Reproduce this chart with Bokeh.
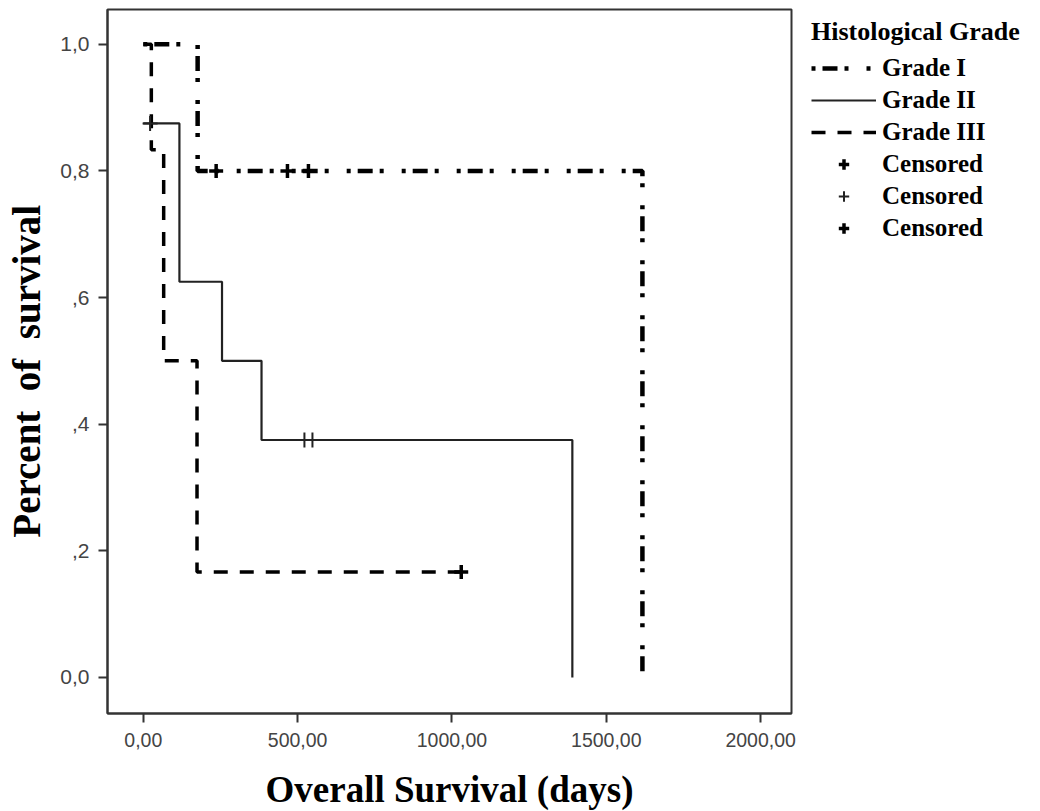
from bokeh.plotting import figure
from bokeh.models import Range1d, FixedTicker, Legend, LegendItem
from bokeh.embed import file_html
from bokeh.resources import INLINE

# ---- data ----
grade1_t = [0, 176, 1617]
grade1_s = [1.0, 0.8, 0.0]
grade1_cens_t = [236, 467, 535]
grade1_cens_s = [0.8, 0.8, 0.8]

grade2_t = [0, 117, 255, 383, 1390]
grade2_s = [0.875, 0.625, 0.5, 0.375, 0.0]
grade2_cens_t = [22, 522, 548]
grade2_cens_s = [0.875, 0.375, 0.375]

grade3_t = [0, 26, 66, 174, 1030]
grade3_s = [1.0, 0.8333, 0.5, 0.1667, 0.1667]
grade3_cens_t = [1030]
grade3_cens_s = [0.1667]

x_ticks = [0, 500, 1000, 1500, 2000]
x_tick_labels = ["0,00", "500,00", "1000,00", "1500,00", "2000,00"]
y_ticks = [0.0, 0.2, 0.4, 0.6, 0.8, 1.0]
y_tick_labels = ["0,0", ",2", ",4", ",6", "0,8", "1,0"]

FRAME = "#333333"

p = figure(frame_width=684, frame_height=704,
           x_range=Range1d(-116, 2100), y_range=Range1d(-0.057, 1.055),
           output_backend="svg", toolbar_location=None,
           min_border_left=107, min_border_top=9, min_border_bottom=89,
           min_border_right=233)
p.grid.visible = False
p.outline_line_color = FRAME
p.outline_line_width = 2
p.background_fill_color = "white"
p.border_fill_color = "white"

for ax in (p.xaxis[0], p.yaxis[0]):
    ax.axis_line_color = FRAME
    ax.axis_line_width = 2
    ax.major_tick_line_color = FRAME
    ax.major_tick_line_width = 2
    ax.major_tick_in = 0
    ax.major_tick_out = 9
    ax.minor_tick_line_color = None
    ax.major_label_text_font = "Liberation Sans"
    ax.major_label_text_color = "#444444"
    ax.axis_label_text_font = "Liberation Serif"
    ax.axis_label_text_font_style = "bold"
    ax.axis_label_text_color = "black"

p.xaxis.ticker = FixedTicker(ticks=x_ticks)
p.xaxis.major_label_overrides = {t: l for t, l in zip(x_ticks, x_tick_labels)}
p.xaxis.major_label_text_font_size = "19.5px"
p.xaxis.major_label_standoff = 10
p.xaxis.axis_label = "Overall Survival (days)"
p.xaxis.axis_label_text_font_size = "37px"
p.xaxis.axis_label_standoff = 19

p.yaxis.ticker = FixedTicker(ticks=y_ticks)
p.yaxis.major_label_overrides = {t: l for t, l in zip(y_ticks, y_tick_labels)}
p.yaxis.major_label_text_font_size = "21px"
p.yaxis.major_label_standoff = 9
p.yaxis.axis_label = "Percent\u00a0 of\u00a0 survival\u00a0\u00a0"
p.yaxis.axis_label_text_font_size = "39px"
p.yaxis.axis_label_standoff = 9

# ---- curves ----
r1 = p.step(grade1_t, grade1_s, mode="after", line_color="black",
            line_width=4.5, line_dash="4 7 15 7 4 18")
r2 = p.step(grade2_t, grade2_s, mode="after", line_color="#222222",
            line_width=2.2)
r3 = p.step(grade3_t, grade3_s, mode="after", line_color="black",
            line_width=3.5, line_dash="14 12")

c1 = p.scatter(grade1_cens_t, grade1_cens_s, marker="cross", size=14,
               line_color="black", line_width=3.5)
c2 = p.scatter(grade2_cens_t, grade2_cens_s, marker="cross", size=15,
               line_color="#222222", line_width=2)
c3 = p.scatter(grade3_cens_t, grade3_cens_s, marker="cross", size=14,
               line_color="black", line_width=3.5)

legend = Legend(items=[
    LegendItem(label="Grade I", renderers=[r1]),
    LegendItem(label="Grade II", renderers=[r2]),
    LegendItem(label="Grade III", renderers=[r3]),
    LegendItem(label="Censored", renderers=[c1]),
    LegendItem(label="Censored", renderers=[c2]),
    LegendItem(label="Censored", renderers=[c3]),
])
legend.title = "Histological Grade"
legend.title_text_font = "Liberation Serif"
legend.title_text_font_style = "bold"
legend.title_text_font_size = "26px"
legend.title_text_color = "black"
legend.title_standoff = 7
legend.label_text_font = "Liberation Serif"
legend.label_text_font_style = "bold"
legend.label_text_font_size = "25px"
legend.label_text_color = "black"
legend.glyph_width = 65
legend.glyph_height = 26
legend.label_height = 26
legend.label_standoff = 6
legend.spacing = 4
legend.padding = 0
legend.margin = 0
legend.border_line_color = None
legend.background_fill_alpha = 0
legend.location = (20, 471)
p.add_layout(legend, "right")

open("out.html", "w").write(file_html(p, INLINE))
